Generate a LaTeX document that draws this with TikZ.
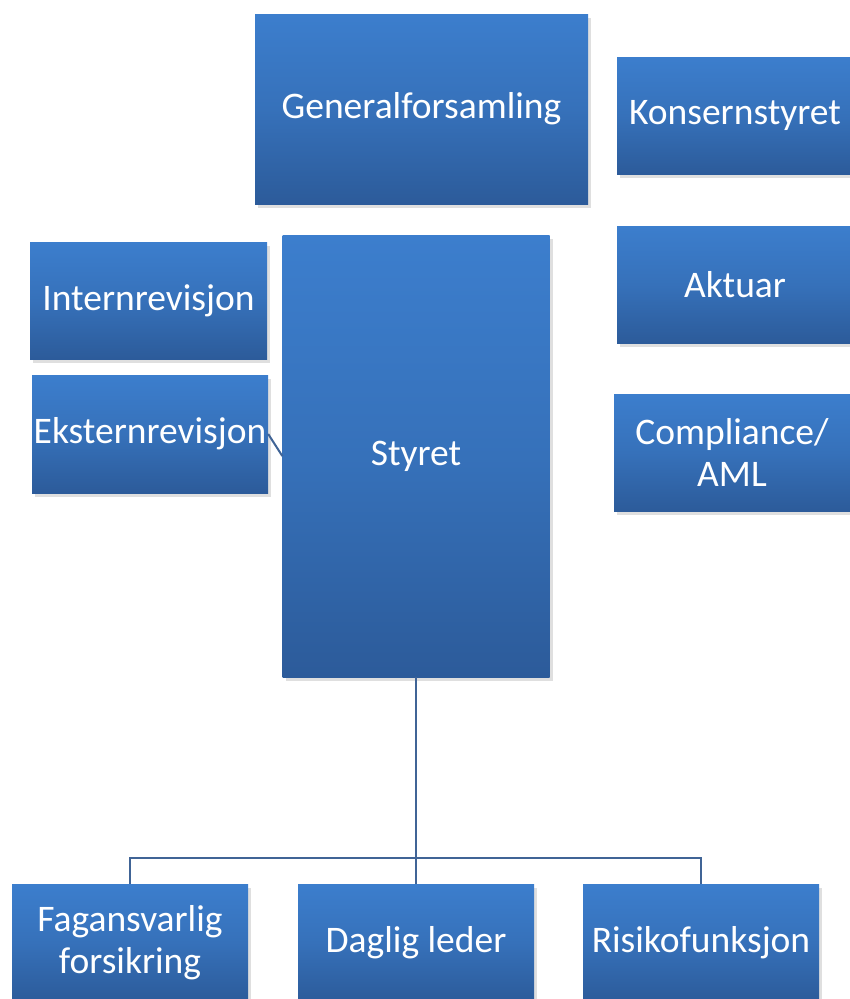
\documentclass[tikz,border=0pt]{standalone}
\usepackage{fontspec}
\setmainfont{Carlito}
\usepackage{xcolor}
\usepackage{tikz}
\usetikzlibrary{positioning, calc, shadows}
\definecolor{boxtop}{RGB}{60,126,205}
\definecolor{boxmid}{RGB}{54,113,186}
\definecolor{boxbot}{RGB}{44,91,154}
\definecolor{linkblue}{RGB}{64,100,150}
\tikzset{every node/.append style={align=center}}
\tikzset{
  org/.style={rectangle, top color=boxtop, bottom color=boxbot, middle color=boxmid,
    draw=none, inner sep=0pt, text=white, font=\fontsize{37.5}{42}\selectfont,
    drop shadow={opacity=0.25, shadow xshift=3pt, shadow yshift=-4pt}},
  conn/.style={draw=linkblue, line width=2pt}
}

\begin{document}
\begin{tikzpicture}[x=1pt, y=-1pt]
  \useasboundingbox (0,0) rectangle (850,999);
  \clip (0,0) rectangle (850,999);
  \node[org, minimum width=333pt, minimum height=190pt] (gen) at (421.5,109) {Generalforsamling};
  \node[org, minimum width=236pt, minimum height=117pt] (kons) at (735,115.5) {Konsernstyret};
  \node[org, minimum width=236pt, minimum height=117pt] (aktuar) at (735,284.5) {Aktuar};
  \node[org, minimum width=236pt, minimum height=117pt] (compl) at (732,452.5) {Compliance/\\AML};
  \node[org, minimum width=237pt, minimum height=117pt] (intern) at (148.5,300.5) {Internrevisjon};
  \node[org, minimum width=236pt, minimum height=118pt] (ekstern) at (150,434) {Eksternrevisjon};
  \node[org, minimum width=267pt, minimum height=442pt] (styret) at (416,456) {Styret};
  \node[org, minimum width=236pt, minimum height=117pt] (fag) at (130,942.5) {Fagansvarlig\\forsikring};
  \node[org, minimum width=236pt, minimum height=117pt] (daglig) at (416,942.5) {Daglig leder};
  \node[org, minimum width=236pt, minimum height=117pt] (risiko) at (701,942.5) {Risikofunksjon};
  \coordinate (bus) at ($(styret.south)+(0,181)$);
  \draw[conn] (ekstern.east) -- (styret.west);
  \draw[conn] (styret.south) -- (bus) -- (daglig.north);
  \draw[conn] (bus) -| (fag.north);
  \draw[conn] (bus) -| (risiko.north);
\end{tikzpicture}
\end{document}
